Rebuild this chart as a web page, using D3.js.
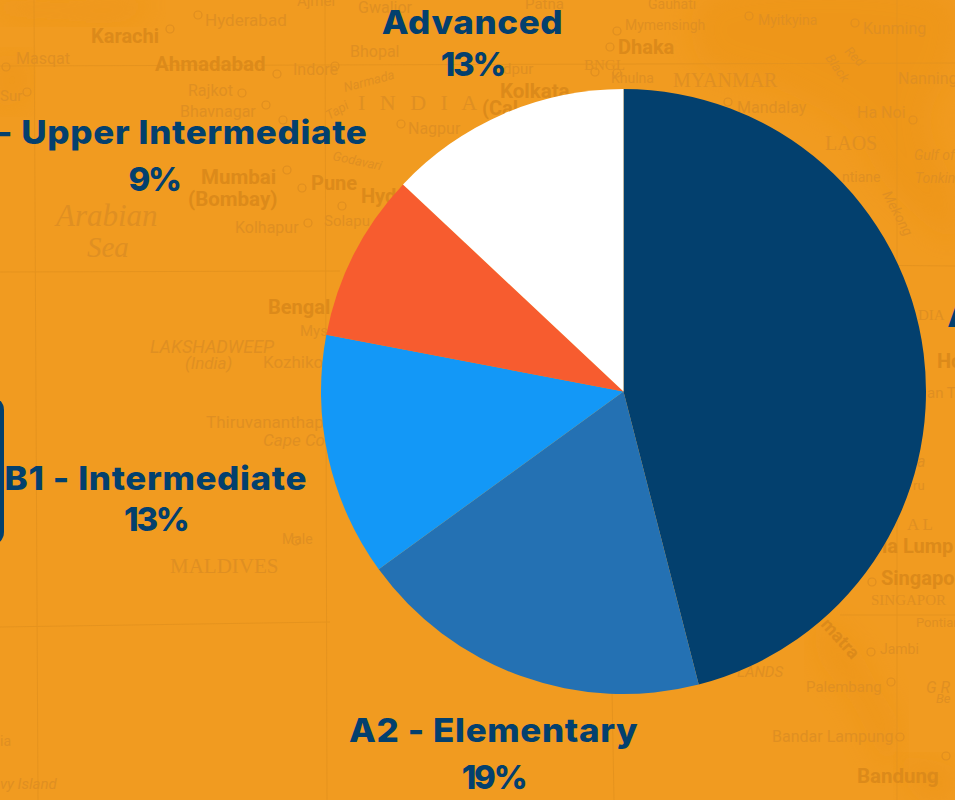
<!DOCTYPE html>
<html>
<head>
<meta charset="utf-8">
<script src="https://cdn.jsdelivr.net/npm/d3@7/dist/d3.min.js"></script>
<style>
html,body{margin:0;padding:0;background:#F19B20;overflow:hidden}
svg{display:block}
</style>
</head>
<body>
<div id="chart"></div>
<script>
// Chart data
const levels = ["A1 - Beginner", "A2 - Elementary", "B1 - Intermediate", "B2 - Upper Intermediate", "Advanced"];
const shares = [46, 19, 13, 9, 13];
const sliceColors = ["#03406E", "#2471B3", "#1398F7", "#F75C2F", "#FFFFFF"];
// Label nudges relative to the slice's mid-angle point
const labelNudgeX = [100, -13, -131, -162, -14];
const labelNudgeY = [-21, 26, 23, -91, -41];
const labelLineGap = [44, 47, 41, 47, 42];

// Background map decoration (not data): [text, x, baseline, size, kind, rotation]
const S = "sans", B = "bold", I = "italic", R = "serif";
const mapLabels = [
 ["Hyderabad",205,26,17,S],["Karachi",91,43,20,B],["Masqat",16,64,16,S],["Ahmadabad",155,71,20.5,B],["Indore",293,75,16,S],
 ["Bhopal",350,57,16,S],["Rajkot",188,96,16,S],["Bhavnagar",180,117,16,S],["Nagpur",408,134,16,S],["Sur",0,101,15,S],
 ["Mumbai",201,184,20.5,B],["(Bombay)",188,206,20.5,B],["Pune",311,190,20,B],["Hyd",361,203,20,B],["Kolhapur",235,233,16,S],["Solapu",324,226,15,S],
 ["Arabian",56,226,31,I],["Sea",87,257,29,I],["Bengal",268,314,20,B],["Mys",300,336,15,S],["LAKSHADWEEP",150,353,18,I],["(India)",185,369,17,I],
 ["Kozhiko",263,368,17,S],["Thiruvananthap",206,428,17,S],["Cape Co",263,446,17,I],["Male",282,544,14,S],["MALDIVES",170,573,21,R],
 ["vy Island",0,789,15,I],["ia",0,746,14,S],
 ["Ajmer",297,6,15,S],["Gwalior",358,13,16,S],["Patna",525,9,15,S],["Gauhati",648,9,14,S],["Mymensingh",625,30,14,S],["Dhaka",618,54,20,B],
 ["BNGL",584,70,15,R],["Khulna",611,83,14,S],["dpur",503,74,15,S],["Kolkata",500,98,20.5,B],["(Cal",482,115,20,B],
 ["MYANMAR",673,87,20,R],["Myitkyina",758,25,14,S],["Kunming",863,34,16,S],["Mandalay",737,113,16,S],["Nanning",898,84,16,S],["Ha Noi",857,118,16,S],
 ["LAOS",825,150,20,R],["ntiane",842,182,14,S],["Gulf of",914,160,14,I],["Tonkin",915,183,14,I],["DIA",918,320,15,R],
 ["Ho",937,368,20,B],["an Th",927,398,15,S],["a",917,467,16,I],["ru",913,490,13,S],["A L",907,530,17,R],["la Lump",882,553,20,B],
 ["Singapo",881,585,20,B],["SINGAPOR",871,605,15,R],["Pontian",916,627,13,S],["Jambi",880,654,14,S],["G R",926,693,16,I],["Be",936,703,13,I],
 ["LANDS",737,677,15,I],["Palembang",806,692,15,S],["Bandar Lampung",772,742,16,S],["Bandung",857,783,20.5,B],
 ["Godavari",332,160,13,I,12],["Narmada",345,92,13,I,-15],["Tapi",329,120,13,I,-30],["Mekong",882,194,14,I,62],["Red",844,52,13,I,45],["Black",825,58,13,I,55],["matra",820,625,18,B,48]
];
const mapCircles = [[198,15],[170,29],[6,67],[27,92],[277,74],[242,93],[266,105],[283,120],[335,66],[401,124],[302,188],[287,170],[308,223],[342,206],[296,541],[872,582],
 [610,47],[617,73],[595,72],[617,31],[728,102],[749,16],[855,23],[913,120],[871,652],[891,682],[900,737],[946,756],[932,776]];
const gridV = [[34,0,38,800],[325,0,327,800],[612,690,614,800],[897,0,897,800]];
const gridH = [[0,66,955,63],[0,272,340,271],[840,265,955,266],[0,627,330,622],[840,615,955,615]];
const terrainPaths = [
 [[0,0],[60,0],[150,0],[130,20],[60,22],[0,14]],
 [[0,55],[25,60],[30,90],[0,110]],
 [[700,0],[955,0],[955,60],[930,120],[955,190],[955,240],[890,190],[850,130],[780,90],[700,60]],
 [[815,620],[850,640],[880,690],[900,730],[890,770],[850,700],[820,660]],
 [[900,760],[955,770],[955,800],[920,800]]
];

const W = 955, H = 800;
const svg = d3.select("#chart").append("svg").attr("width", W).attr("height", H);
svg.append("rect").attr("width", W).attr("height", H).attr("fill", "#F19B20");

const defs = svg.append("defs");
defs.append("filter").attr("id", "soft").append("feGaussianBlur").attr("stdDeviation", 14);

// Map decoration
const map = svg.append("g");
const outline = d3.line().curve(d3.curveCatmullRomClosed);
map.selectAll("path.terrain").data(terrainPaths).join("path")
  .attr("class", "terrain").attr("d", outline).attr("fill", "#E98F0E").attr("opacity", 0.35).attr("filter", "url(#soft)");
map.selectAll("line.grid").data(gridV.concat(gridH)).join("line")
  .attr("class", "grid")
  .attr("x1", d => d[0]).attr("y1", d => d[1]).attr("x2", d => d[2]).attr("y2", d => d[3])
  .attr("stroke", "#E5931E").attr("stroke-width", 1);
map.selectAll("circle").data(mapCircles).join("circle")
  .attr("cx", d => d[0]).attr("cy", d => d[1]).attr("r", 4)
  .attr("fill", "none").attr("stroke", "#DF8E20").attr("stroke-width", 1.2);
const sansFamily = "Roboto, sans-serif", serifFamily = "'Liberation Serif', serif";
map.selectAll("text.place").data(mapLabels).join("text")
  .attr("class", "place")
  .attr("transform", d => `translate(${d[1]},${d[2]}) rotate(${d[5] || 0})`)
  .attr("font-size", d => d[3])
  .attr("font-family", d => d[4] === R || (d[4] === I && d[3] > 20) ? serifFamily : sansFamily)
  .attr("font-weight", d => d[4] === B ? 700 : 400)
  .attr("font-style", d => d[4] === I ? "italic" : "normal")
  .attr("fill", d => d[4] === B ? "#DC8A1A" : "#DF8F22")
  .text(d => d[0]);
map.append("text").attr("x", 358).attr("y", 110)
  .attr("font-family", serifFamily).attr("font-size", 22).attr("letter-spacing", 4.5).attr("fill", "#DF8F22")
  .text("I N D I A");

// Left edge panel
svg.append("rect").attr("x", -40).attr("y", 396).attr("width", 44).attr("height", 150).attr("rx", 14).attr("fill", "#03406E");

// Pie
const cx = 623.5, cy = 391.5, radius = 302.5, labelRadius = 345;
const slices = d3.pie().sort(null).value(d => d)(shares);
const arc = d3.arc().innerRadius(0).outerRadius(radius);
const labelArc = d3.arc().innerRadius(labelRadius).outerRadius(labelRadius);
const g = svg.append("g").attr("transform", `translate(${cx},${cy})`);
g.selectAll("path").data(slices).join("path")
  .attr("d", arc).attr("fill", (d, i) => sliceColors[i]);

// Labels: name line and percentage line
const labelGroups = g.selectAll("g.label").data(slices).join("g")
  .attr("class", "label")
  .attr("transform", (d, i) => {
    const [x, y] = labelArc.centroid(d);
    return `translate(${x + labelNudgeX[i]},${y + labelNudgeY[i]})`;
  })
  .attr("text-anchor", "middle")
  .attr("font-family", "Inter, 'Open Sans', sans-serif")
  .attr("font-weight", 800).attr("font-size", 33)
  .attr("fill", "#03406E");
labelGroups.append("text")
  .attr("transform", "scale(1.06,1)").attr("letter-spacing", 0.6)
  .text((d, i) => levels[i]);
labelGroups.append("text")
  .attr("y", (d, i) => labelLineGap[i]).attr("letter-spacing", -2.2)
  .text((d, i) => shares[i] + "%");
</script>
</body>
</html>
